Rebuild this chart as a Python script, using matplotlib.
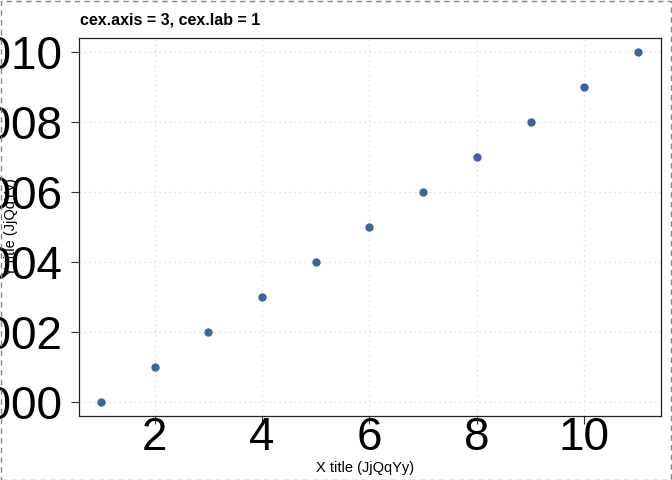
import matplotlib
matplotlib.use("Agg")
import matplotlib.pyplot as plt
from matplotlib.patches import Rectangle

x_vals = [1, 2, 3, 4, 5, 6, 7, 8, 9, 10, 11]
y_vals = [1000, 1001, 1002, 1003, 1004, 1005, 1006, 1007, 1008, 1009, 1010]
x_ticks = [2, 4, 6, 8, 10]
y_ticks = [1000, 1002, 1004, 1006, 1008, 1010]

plt.rcParams['font.family'] = ['Liberation Sans', 'DejaVu Sans']

W, H = 672, 480
fig = plt.figure(figsize=(W / 100, H / 100), dpi=100)
left, right, top, bottom = 79, 661, 38, 416
ax = fig.add_axes([left / W, 1 - bottom / H, (right - left) / W, (bottom - top) / H])

ax.scatter(x_vals, y_vals, s=36, color='#3d6599', zorder=3, linewidths=0)
ax.set_xlim(0.59, 11.43)
ax.set_ylim(999.6, 1010.4)
ax.set_xticks(x_ticks)
ax.set_yticks(y_ticks)
ax.grid(True, color='#d9d9d9', linestyle=(0, (1, 3)), linewidth=0.9)
ax.set_axisbelow(True)
for s in ax.spines.values():
    s.set_color('#222222')
    s.set_linewidth(0.9)
ax.tick_params(axis='both', labelsize=33, length=6, width=0.8, color='#333333')
ax.tick_params(axis='y', pad=6)
ax.tick_params(axis='x', pad=-6)

fig.text(80 / W, 1 - 20 / H, 'cex.axis = 3, cex.lab = 1', fontsize=11.5,
         fontweight='bold', ha='left', va='center')
fig.text(365 / W, 1 - 468 / H, 'X title (JjQqYy)', fontsize=10.5,
         ha='center', va='center')
fig.text(11 / W, 1 - 227 / H, 'Y title (JjQqYy)', fontsize=10.5,
         ha='center', va='center', rotation=90)

fig.patches.append(Rectangle((0.5 / W, 0.5 / H), 1 - 1.5 / W, 1 - 1.5 / H,
                             transform=fig.transFigure, fill=False,
                             edgecolor='#888888', linestyle=(0, (4, 3)),
                             linewidth=1.0))

fig.savefig('out.png', dpi=100)
